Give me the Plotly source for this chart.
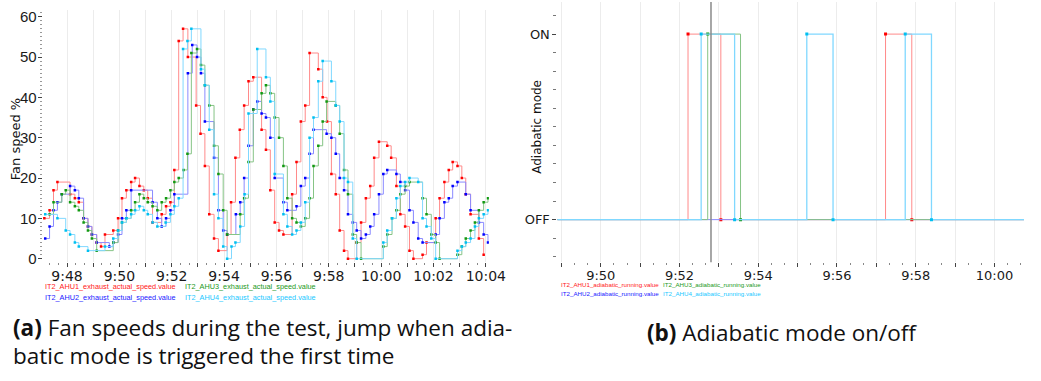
import plotly.graph_objects as go
import pandas as pd

W, H = 1041, 381
BASE = pd.Timestamp("2021-06-01 09:47:00")

# ---------------- data: fan speeds (seconds after 09:47:00, value %) ----------------
ahu1_t = [8, 20, 29, 38, 67, 78, 87, 98, 108, 117, 128, 138, 147, 166, 177, 186, 196, 207, 216, 226,
          236, 245, 256, 277, 287, 297, 306, 316, 326, 337, 356, 366, 376, 386, 397, 407, 427, 436,
          446, 456, 466, 476, 487, 506, 516, 526, 536, 546, 556, 576, 586, 596, 606, 616, 636, 646,
          656, 666, 676, 685, 695, 704, 724, 734, 745, 755, 764, 775, 794, 803, 815, 824, 835, 845,
          854, 875, 884, 905, 914, 925, 935, 944, 955, 965, 974, 985, 1004, 1015]
ahu1_v = [10, 12, 17, 19, 16, 15, 14, 10, 8, 6, 4, 3, 6, 7, 10, 15, 17, 19, 20, 18,
          17, 15, 9, 11, 13, 14, 22, 54, 57, 50, 38, 31, 23, 11, 5, 2, 6, 14,
          25, 32, 38, 44, 45, 32, 27, 17, 9, 7, 6, 16, 24, 34, 38, 51, 47, 40,
          34, 21, 16, 7, 2, 0, 4, 9, 15, 18, 25, 29, 28, 25, 18, 11, 8, 2,
          0, 1, 4, 10, 15, 19, 22, 24, 23, 20, 16, 11, 5, 1]

ahu2_t = [10, 20, 29, 38, 48, 67, 78, 87, 98, 108, 117, 128, 157, 166, 177, 186, 196, 207, 256, 267,
          277, 287, 297, 306, 337, 347, 358, 367, 376, 397, 407, 418, 427, 447, 457, 466, 476, 487,
          496, 506, 516, 526, 536, 556, 565, 586, 596, 606, 616, 625, 655, 666, 676, 685, 695, 704,
          715, 724, 734, 745, 755, 764, 775, 785, 794, 815, 824, 835, 845, 854, 865, 875, 905, 914,
          925, 935, 944, 955, 974, 985, 1004, 1015, 1025]
ahu2_v = [5, 8, 12, 14, 16, 18, 17, 15, 10, 8, 6, 4, 3, 4, 6, 10, 12, 17, 14, 10,
          8, 10, 12, 16, 46, 53, 50, 46, 34, 25, 12, 7, 6, 11, 14, 20, 28, 37,
          39, 36, 35, 30, 20, 14, 12, 13, 18, 20, 26, 32, 31, 30, 26, 20, 17, 11,
          9, 7, 5, 6, 8, 11, 16, 21, 22, 21, 19, 17, 12, 9, 5, 4, 6, 10,
          14, 15, 18, 19, 16, 12, 9, 6, 4]

ahu3_t = [20, 29, 48, 57, 67, 78, 87, 98, 108, 117, 128, 166, 177, 186, 196, 207, 216, 226, 236, 245,
          256, 267, 277, 287, 297, 306, 316, 327, 336, 345, 358, 367, 376, 386, 397, 407, 418, 427,
          457, 466, 476, 487, 506, 516, 526, 536, 546, 556, 565, 576, 586, 596, 606, 616, 625, 636,
          646, 655, 676, 685, 695, 704, 715, 724, 734, 785, 794, 805, 815, 824, 835, 845, 875, 884,
          895, 905, 914, 955, 965, 974, 985, 995, 1004, 1015, 1025]
ahu3_v = [11, 14, 16, 17, 14, 13, 12, 9, 7, 5, 2, 4, 7, 9, 10, 12, 14, 16, 15, 14,
          13, 12, 14, 15, 17, 19, 20, 22, 26, 51, 52, 48, 43, 38, 28, 21, 12, 6,
          11, 15, 24, 37, 41, 43, 41, 35, 30, 23, 15, 10, 9, 8, 10, 15, 23, 28,
          34, 39, 38, 31, 22, 16, 6, 4, 0, 3, 6, 10, 12, 16, 18, 19, 15, 11,
          6, 4, 0, 1, 3, 5, 7, 9, 12, 14, 15]

ahu4_t = [10, 38, 57, 67, 78, 87, 108, 147, 166, 177, 186, 196, 207, 216, 226, 236, 245, 256, 267, 286,
          297, 306, 316, 326, 336, 345, 367, 376, 386, 397, 407, 418, 427, 437, 446, 457, 467, 476,
          496, 516, 526, 536, 556, 565, 576, 586, 596, 606, 616, 625, 636, 646, 666, 676, 685, 695,
          704, 715, 724, 785, 794, 805, 815, 824, 835, 845, 865, 875, 884, 895, 905, 955, 965, 974,
          985, 995, 1004, 1015, 1025]
ahu4_v = [11, 10, 7, 6, 4, 3, 2, 3, 5, 7, 9, 10, 11, 12, 13, 12, 11, 9, 8, 9,
          11, 13, 15, 52, 54, 57, 47, 43, 32, 16, 10, 3, 0, 3, 4, 8, 16, 36,
          52, 45, 39, 21, 11, 8, 6, 7, 9, 14, 30, 35, 44, 49, 44, 38, 34, 20,
          19, 5, 0, 4, 7, 10, 15, 18, 19, 20, 19, 10, 8, 5, 0, 2, 3, 4,
          5, 8, 10, 11, 12]

speed_names = ["IT2_AHU1_exhaust_actual_speed.value", "IT2_AHU2_exhaust_actual_speed.value",
               "IT2_AHU3_exhaust_actual_speed.value", "IT2_AHU4_exhaust_actual_speed.value"]

# ---------------- data: adiabatic running (time, state) ----------------
adia1_t = ["09:48:00", "09:52:13", "09:53:03", "09:57:14", "09:57:54", "10:01:30"]
adia1_v = [0, 1, 0, 1, 0, 0]
adia2_t = ["09:48:00", "10:01:30"]
adia2_v = [0, 0]
adia3_t = ["09:48:00", "09:52:43", "09:53:33", "10:01:30"]
adia3_v = [0, 1, 0, 0]
adia4_t = ["09:48:00", "09:52:33", "09:53:24", "09:55:14", "09:55:54", "09:57:44", "09:58:24", "10:01:30"]
adia4_v = [0, 1, 0, 1, 0, 1, 0, 0]
adia_names = ["IT2_AHU1_adiabatic_running.value", "IT2_AHU2_adiabatic_running.value",
              "IT2_AHU3_adiabatic_running.value", "IT2_AHU4_adiabatic_running.value"]
cursor_time = "09:52:48"

left_minutes = ["09:%02d" % m for m in range(48, 60)] + ["10:%02d" % m for m in range(0, 5)]
right_minutes = ["09:%02d" % m for m in range(49, 60)] + ["10:00"]

# ---------------- styles ----------------
line_cols = ["#ff8a8a", "#8a8aff", "#86c486", "#80d8ff"]
mark_cols = ["#ff0000", "#0000ff", "#119911", "#00c0f0"]
leg_cols = ["#ff2020", "#2020ff", "#229922", "#20c8ff"]


def T(s):
    return [BASE + pd.Timedelta(seconds=x) for x in s]


def D(hms):
    return [pd.Timestamp("2021-06-01 " + h) for h in hms]


def px(p):
    return p / W


def py(p):
    return 1 - p / H


def lab(hm):
    h, m = hm.split(":")
    return "%d:%s" % (int(h), m) if int(m) % 2 == 0 else ""


fig = go.Figure()
speed = [(ahu1_t, ahu1_v), (ahu2_t, ahu2_v), (ahu3_t, ahu3_v), (ahu4_t, ahu4_v)]
for i, (t, v) in enumerate(speed):
    fig.add_trace(go.Scatter(x=T(t), y=v, mode="lines+markers", xaxis="x", yaxis="y",
                             line=dict(color=line_cols[i], width=1, shape="hv"),
                             marker=dict(color=mark_cols[i], size=2.5, symbol="square"),
                             name=speed_names[i]))

adia = [(adia1_t, adia1_v), (adia2_t, adia2_v), (adia3_t, adia3_v), (adia4_t, adia4_v)]
adia_w = [1, 1, 1, 1.3]
for i, (t, v) in enumerate(adia):
    fig.add_trace(go.Scatter(x=D(t), y=v, mode="lines+markers", xaxis="x2", yaxis="y2",
                             line=dict(color=line_cols[i], width=adia_w[i], shape="hv"),
                             marker=dict(color=mark_cols[i], size=3, symbol="square"),
                             name=adia_names[i]))

fig.add_shape(type="line", xref="x2", yref="y2 domain", x0=D([cursor_time])[0], x1=D([cursor_time])[0],
              y0=0, y1=1, line=dict(color="#8a8a8a", width=1.5))

common_x = dict(type="date", showgrid=True, gridcolor="#ececec", gridwidth=1, zeroline=False,
                showline=False, ticks="outside", ticklen=4, tickcolor="#444",
                ticklabelstandoff=-3,
                minor=dict(dtick=20000, ticks="outside", ticklen=2, tickcolor="#888", showgrid=False))

fig.update_layout(
    width=W, height=H, margin=dict(l=0, r=0, t=0, b=0),
    plot_bgcolor="white", paper_bgcolor="white", showlegend=False,
    xaxis=dict(domain=[px(43.3), px(497)], anchor="y",
               range=[BASE + pd.Timedelta(seconds=4), BASE + pd.Timedelta(seconds=1027)],
               tickmode="array", tickvals=D([m + ":00" for m in left_minutes]),
               ticktext=[lab(m) for m in left_minutes],
               tickfont=dict(family="DejaVu Sans", size=14, color="#1a1a1a"), **common_x),
    yaxis=dict(domain=[py(265), py(8)], anchor="x", range=[-0.85, 61.7],
               tickmode="array", tickvals=[0, 10, 20, 30, 40, 50, 60],
               showgrid=False, zeroline=False, showline=False,
               ticks="outside", ticklen=4, tickcolor="#444", ticklabelstandoff=-2,
               tickfont=dict(family="Liberation Sans", size=15, color="#1a1a1a"),
               minor=dict(dtick=1, tick0=0, ticks="outside", ticklen=2, tickcolor="#999", showgrid=False)),
    xaxis2=dict(domain=[px(566.7), 1.0], anchor="y2",
                range=[pd.Timestamp("2021-06-01 09:48:54"), pd.Timestamp("2021-06-01 10:00:45")],
                tickmode="array", tickvals=D([m + ":00" for m in right_minutes]),
                ticktext=[lab(m) for m in right_minutes],
                tickfont=dict(family="DejaVu Sans", size=13, color="#1a1a1a"), **common_x),
    yaxis2=dict(domain=[py(265), 1.0], anchor="x2", range=[-0.229, 1.173],
                tickmode="array", tickvals=[0, 1], ticktext=["OFF", "ON"],
                showgrid=False, zeroline=False, showline=False,
                ticks="outside", ticklen=4, tickcolor="#444",
                tickfont=dict(family="DejaVu Sans", size=13, color="#1a1a1a"),
                minor=dict(dtick=0.1, tick0=0, ticks="outside", ticklen=3, tickcolor="#777", showgrid=False)),
)

ann = []
ann.append(dict(x=px(16), y=py(140), text="Fan speed %", textangle=-90, showarrow=False,
                xanchor="center", yanchor="middle",
                xref="paper", yref="paper", font=dict(family="DejaVu Sans", size=13, color="#111")))
ann.append(dict(x=px(546), y=py(127), text="Adiabatic mode", textangle=-90, showarrow=False,
                xanchor="center", yanchor="middle",
                xref="paper", yref="paper", font=dict(family="DejaVu Sans", size=12, color="#111")))
lpos = [(44, 290), (44, 301), (186, 290), (186, 301)]
for i in range(4):
    ann.append(dict(x=px(lpos[i][0]), y=py(lpos[i][1]), text=speed_names[i], showarrow=False,
                    xanchor="left", yanchor="middle", xref="paper", yref="paper",
                    font=dict(family="Liberation Sans", size=7.3, color=leg_cols[i])))
rpos = [(568, 288), (568, 297), (672, 288), (672, 297)]
for i in range(4):
    ann.append(dict(x=px(rpos[i][0]), y=py(rpos[i][1]), text=adia_names[i], showarrow=False,
                    xanchor="left", yanchor="middle", xref="paper", yref="paper",
                    font=dict(family="Liberation Sans", size=6.2, color=leg_cols[i])))
capfont = dict(family="Open Sans", size=22.5, color="#111")
ann.append(dict(x=px(11), y=py(332), text="<b>(a)</b> Fan speeds during the test, jump when adia-",
                showarrow=False, xanchor="left", yanchor="middle", xref="paper", yref="paper", font=capfont))
ann.append(dict(x=px(11), y=py(360), text="batic mode is triggered the first time",
                showarrow=False, xanchor="left", yanchor="middle", xref="paper", yref="paper", font=capfont))
ann.append(dict(x=px(656), y=py(337), text="<b>(b)</b> Adiabatic mode on/off",
                showarrow=False, xanchor="left", yanchor="middle", xref="paper", yref="paper", font=capfont))
fig.update_layout(annotations=ann)

fig.write_html("out.html")
